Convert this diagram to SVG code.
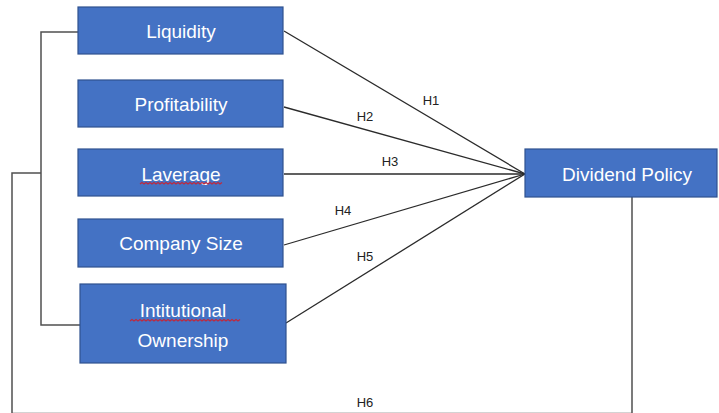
<svg xmlns="http://www.w3.org/2000/svg" width="719" height="413" viewBox="0 0 719 413">
  <style>
    .box { fill: #4472C4; stroke: #2F528F; stroke-width: 1.2; }
    .lbl { fill: #ffffff; font-family: "Liberation Sans", Arial, sans-serif; font-size: 19px; text-anchor: middle; }
    .hyp { fill: #222222; font-family: "Liberation Sans", Arial, sans-serif; font-size: 13px; text-anchor: middle; }
    .edge { fill: none; stroke: #2b2b2b; stroke-width: 1.3; }
    .bracket { fill: none; stroke: #505050; stroke-width: 1.5; }
    .squiggle { fill: none; stroke: #c0283c; stroke-width: 1.1; }
  </style>
  <rect width="719" height="413" fill="#ffffff"/>

  <g id="connectors">
    <!-- hypotheses H1..H5 converge on Dividend Policy -->
    <line class="edge" x1="284" y1="31" x2="525" y2="174"/>
    <line class="edge" x1="284" y1="107" x2="525" y2="174"/>
    <line class="edge" x1="284" y1="174" x2="525" y2="174"/>
    <line class="edge" x1="284" y1="245" x2="525" y2="174"/>
    <line class="edge" x1="286" y1="323" x2="525" y2="174"/>
    <!-- bracket grouping Liquidity .. Intitutional Ownership -->
    <polyline class="bracket" points="78,32 41,32 41,325 80,325"/>
    <!-- H6 path running along the bottom edge to Dividend Policy -->
    <polyline class="bracket" points="41,173 12,173 12,413.6 632,413.6 632,197"/>
    <text class="hyp" x="431" y="105">H1</text>
    <text class="hyp" x="365" y="121">H2</text>
    <text class="hyp" x="390" y="166">H3</text>
    <text class="hyp" x="343" y="215">H4</text>
    <text class="hyp" x="365" y="261">H5</text>
    <text class="hyp" x="365" y="407">H6</text>
  </g>

  <g id="liquidity">
    <rect class="box" x="78" y="7" width="205" height="47"/>
    <text class="lbl" x="181" y="38">Liquidity</text>
  </g>

  <g id="profitability">
    <rect class="box" x="78" y="80" width="205" height="47"/>
    <text class="lbl" x="181" y="111">Profitability</text>
  </g>

  <g id="laverage">
    <rect class="box" x="78" y="149" width="205" height="47"/>
    <text class="lbl" x="181" y="181">Laverage</text>
    <path class="squiggle" d="M140,184 l2,-1.5 l2,1.5 l2,-1.5 l2,1.5 l2,-1.5 l2,1.5 l2,-1.5 l2,1.5 l2,-1.5 l2,1.5 l2,-1.5 l2,1.5 l2,-1.5 l2,1.5 l2,-1.5 l2,1.5 l2,-1.5 l2,1.5 l2,-1.5 l2,1.5 l2,-1.5 l2,1.5 l2,-1.5 l2,1.5 l2,-1.5 l2,1.5 l2,-1.5 l2,1.5 l2,-1.5 l2,1.5 l2,-1.5 l2,1.5 l2,-1.5 l2,1.5 l2,-1.5 l2,1.5 l2,-1.5 l2,1.5 l2,-1.5 l2,1.5 l2,-1.5"/>
  </g>

  <g id="company-size">
    <rect class="box" x="78" y="219" width="205" height="48"/>
    <text class="lbl" x="181" y="250">Company Size</text>
  </g>

  <g id="institutional-ownership">
    <rect class="box" x="80" y="284" width="206" height="79"/>
    <text class="lbl" x="183" y="317">Intitutional</text>
    <text class="lbl" x="183" y="347">Ownership</text>
    <path class="squiggle" d="M130,321 l2,-1.5 l2,1.5 l2,-1.5 l2,1.5 l2,-1.5 l2,1.5 l2,-1.5 l2,1.5 l2,-1.5 l2,1.5 l2,-1.5 l2,1.5 l2,-1.5 l2,1.5 l2,-1.5 l2,1.5 l2,-1.5 l2,1.5 l2,-1.5 l2,1.5 l2,-1.5 l2,1.5 l2,-1.5 l2,1.5 l2,-1.5 l2,1.5 l2,-1.5 l2,1.5 l2,-1.5 l2,1.5 l2,-1.5 l2,1.5 l2,-1.5 l2,1.5 l2,-1.5 l2,1.5 l2,-1.5 l2,1.5 l2,-1.5 l2,1.5 l2,-1.5 l2,1.5 l2,-1.5 l2,1.5 l2,-1.5 l2,1.5 l2,-1.5 l2,1.5 l2,-1.5 l2,1.5 l2,-1.5 l2,1.5 l2,-1.5 l2,1.5 l2,-1.5"/>
  </g>

  <g id="dividend-policy">
    <rect class="box" x="525" y="149" width="192" height="48"/>
    <text class="lbl" x="627" y="181">Dividend Policy</text>
  </g>
</svg>
